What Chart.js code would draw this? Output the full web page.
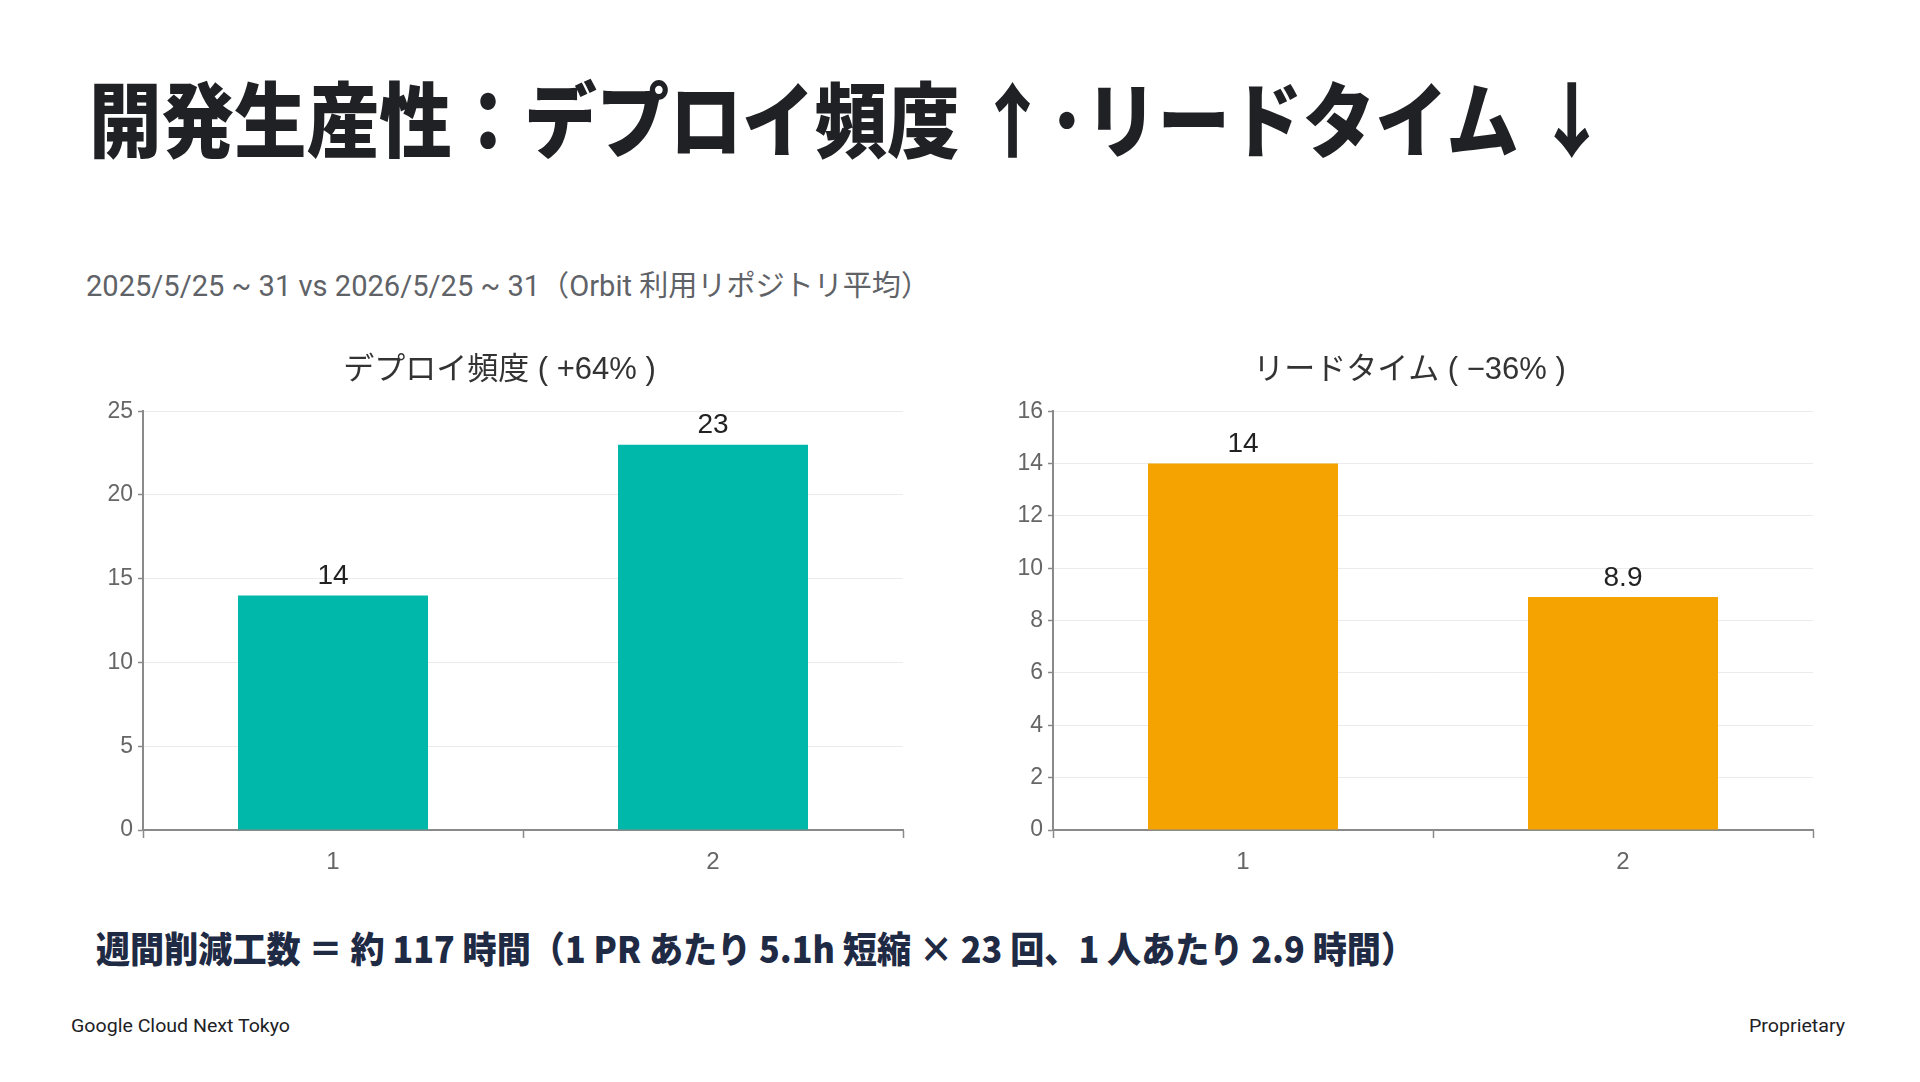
<!DOCTYPE html>
<html lang="ja">
<head>
<meta charset="utf-8">
<title>開発生産性</title>
<script src="https://cdn.jsdelivr.net/npm/chart.js@4.4.1/dist/chart.umd.min.js"></script>
<style>
  html, body { margin: 0; padding: 0; background: #ffffff; }
  body { width: 1920px; height: 1082px; position: relative; overflow: hidden; }
  .txt { position: absolute; white-space: nowrap; line-height: 1; transform-origin: left top; }
  #title { left: 89px; top: 56px; font: 900 82px "Noto Sans CJK JP", sans-serif; color: #202124; }
  #subtitle { left: 86px; top: 262px; font: 400 29px "Roboto", "Noto Sans CJK JP", sans-serif; color: #5f6368; }
  #summary { left: 96px; top: 921px; font: 900 36px "Noto Sans CJK JP", sans-serif; color: #1f2a44; }
  #footer-left { left: 71px; top: 1015px; font: 400 18px "Roboto", sans-serif; color: #202124; }
  #footer-right { left: 1749px; top: 1015px; font: 400 18px "Roboto", sans-serif; color: #202124; }
  canvas { position: absolute; top: 340px; }
  #deploy-chart { left: 60px; }
  #lead-chart { left: 970px; }
</style>
</head>
<body>
<div class="txt" id="title" data-fit="1519">開発生産性：デプロイ頻度 ↑･リードタイム ↓</div>
<div class="txt" id="subtitle" data-fit="844">2025/5/25 ~ 31 vs 2026/5/25 ~ 31（Orbit 利用リポジトリ平均）</div>
<canvas id="deploy-chart" width="860" height="540"></canvas>
<canvas id="lead-chart" width="860" height="540"></canvas>
<div class="txt" id="summary" data-fit="1319">週間削減工数 ＝ 約 117 時間（1 PR あたり 5.1h 短縮 × 23 回、1 人あたり 2.9 時間）</div>
<div class="txt" id="footer-left" data-fit="219">Google Cloud Next Tokyo</div>
<div class="txt" id="footer-right" data-fit="96">Proprietary</div>

<script>
// Chart data...
const categories = ['1', '2'];
const deployFrequency = [14, 23];
const leadTime = [14, 8.9];
const deployTicks = [0, 5, 10, 15, 20, 25];
const leadTicks = [0, 2, 4, 6, 8, 10, 12, 14, 16];
const deployTitle = 'デプロイ頻度 ( +64% )';
const leadTitle = 'リードタイム ( −36% )';

const CHART_FONT = "'Liberation Sans', 'Noto Sans CJK JP', sans-serif";

/**
 * Draws the value above each bar...
 */
const barValueLabels = {
  id: 'barValueLabels',
  afterDatasetsDraw(chart) {
    const ctx = chart.ctx;
    const meta = chart.getDatasetMeta(0);
    const values = chart.data.datasets[0].data;
    ctx.save();
    ctx.font = '28px ' + CHART_FONT;
    ctx.fillStyle = '#222222';
    ctx.textAlign = 'center';
    ctx.textBaseline = 'middle';
    meta.data.forEach((bar, i) => {
      ctx.fillText(String(values[i]), bar.x, bar.y - 19);
    });
    ctx.restore();
  }
};

function createBarChartOptions(title, values, color, yTicks) {
  return {
    type: 'bar',
    data: {
      labels: categories,
      datasets: [{
        data: values,
        backgroundColor: color,
        borderWidth: 0,
        barPercentage: 0.5,
        categoryPercentage: 1.0
      }]
    },
    options: {
      responsive: false,
      animation: false,
      // left padding nudges the title right, the y axis gets the rest
      layout: { padding: { left: 36, right: 17, top: 0, bottom: 0 } },
      plugins: {
        legend: { display: false },
        tooltip: { enabled: false },
        title: {
          display: true,
          text: title,
          color: '#333333',
          font: { family: CHART_FONT, size: 31, weight: 'normal', lineHeight: 1.2 },
          padding: { top: 12, bottom: 22 }
        }
      },
      scales: {
        x: {
          grid: {
            display: true,
            drawOnChartArea: false,
            drawTicks: true,
            tickLength: 8,
            tickColor: '#8a8a8a',
            tickWidth: 1.5,
            offset: true
          },
          border: { color: '#8a8a8a', width: 2 },
          ticks: {
            color: '#666666',
            padding: 10,
            font: { family: CHART_FONT, size: 24 }
          },
          afterFit: scale => { scale.height = 50; }
        },
        y: {
          min: yTicks[0],
          max: yTicks[yTicks.length - 1],
          ticks: {
            stepSize: yTicks[1] - yTicks[0],
            color: '#666666',
            padding: 5,
            font: { family: CHART_FONT, size: 23 }
          },
          grid: {
            color: '#ebebeb',
            lineWidth: 1,
            tickLength: 5,
            tickColor: '#8a8a8a',
            tickWidth: 1.5
          },
          border: { color: '#8a8a8a', width: 2 },
          afterFit: scale => { scale.width = 47; }
        }
      }
    },
    plugins: [barValueLabels]
  };
}

// Squeeze the slide texts to the reference widths...
function fitTextWidths() {
  document.querySelectorAll('[data-fit]').forEach(el => {
    const target = parseFloat(el.dataset.fit);
    const w = el.getBoundingClientRect().width;
    if (w > 0) el.style.transform = 'scaleX(' + (target / w) + ')';
  });
}

document.addEventListener('DOMContentLoaded', function (event) {
  fitTextWidths();

  // Drawing charts...
  const deployChartOptions = createBarChartOptions(deployTitle, deployFrequency, '#00b8a9', deployTicks);
  const leadChartOptions = createBarChartOptions(leadTitle, leadTime, '#f4a300', leadTicks);

  const deployChart = new Chart(document.querySelector('#deploy-chart'), deployChartOptions);
  const leadChart = new Chart(document.querySelector('#lead-chart'), leadChartOptions);
});
</script>
</body>
</html>
